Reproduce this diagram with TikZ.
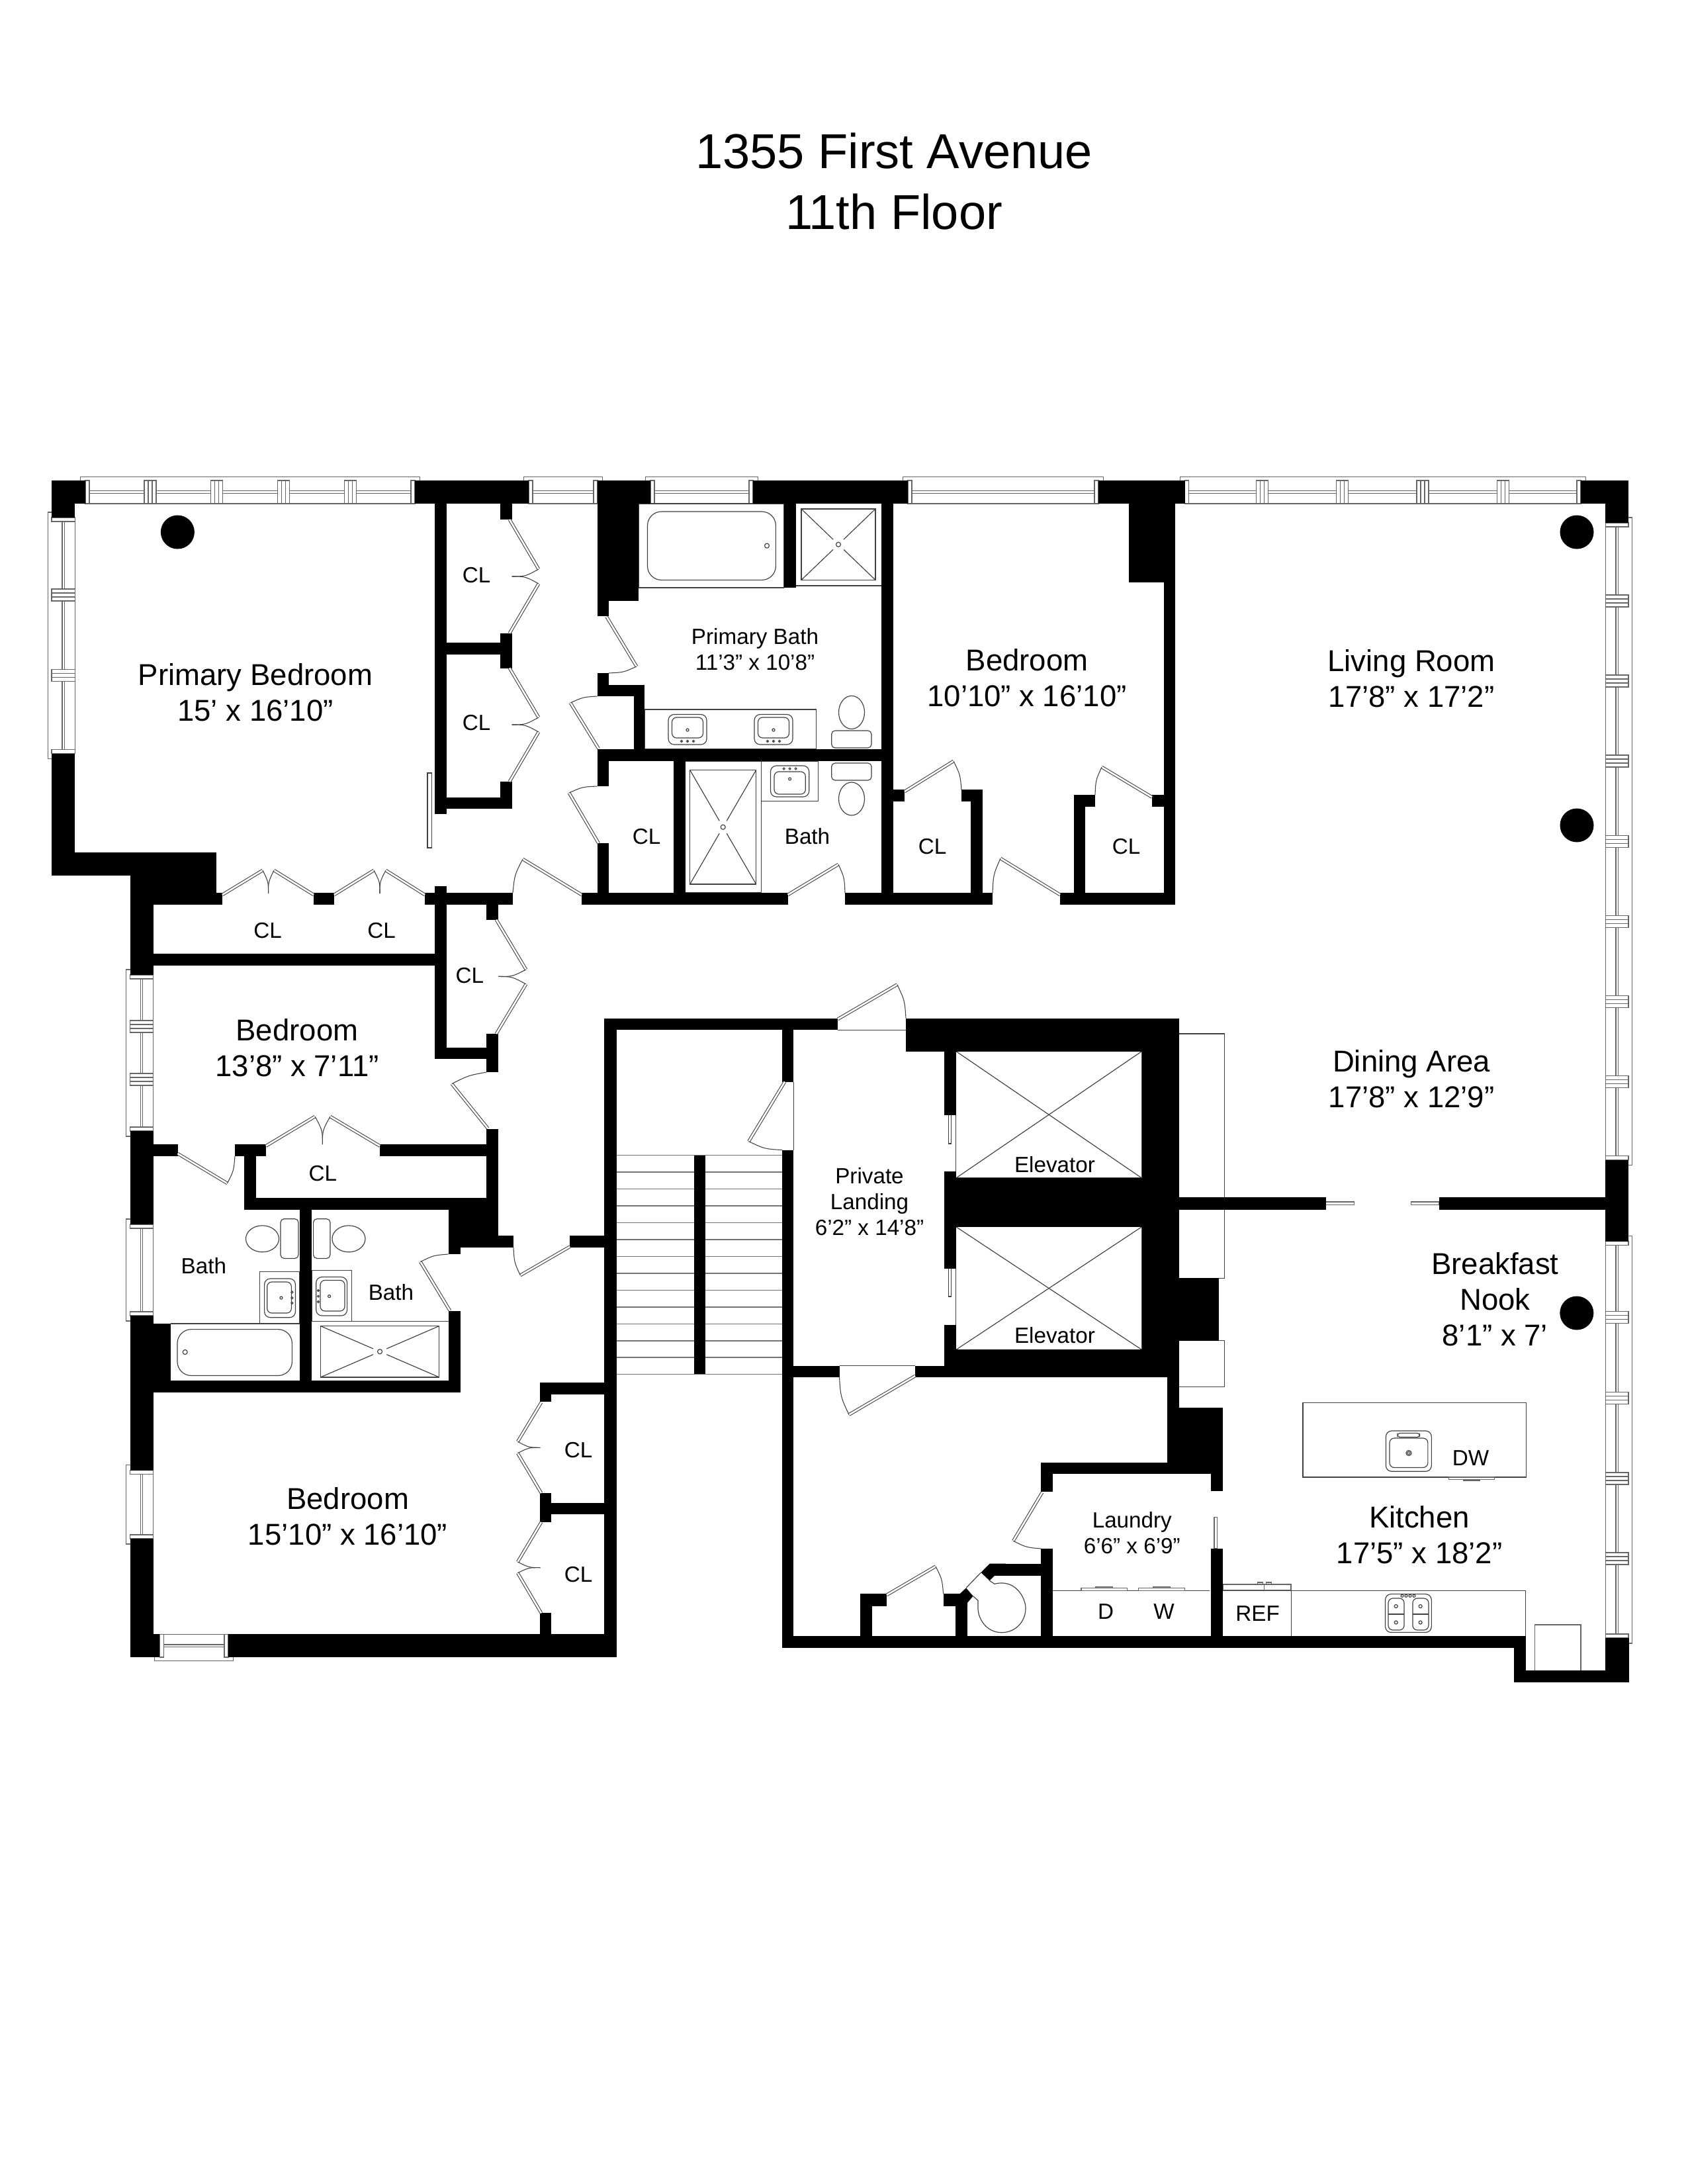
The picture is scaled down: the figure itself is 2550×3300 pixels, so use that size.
\documentclass[tikz,border=0pt]{standalone}
\usepackage{fontspec}
\setmainfont{Liberation Sans}
\usetikzlibrary{calc}

\newcommand{\winh}[4]{
   \draw[windowline] (#3-7.5,#1) -- (#3-7.5,{#1-(#2-#1)*0.16}) -- (#4+7.5,{#1-(#2-#1)*0.16}) -- (#4+7.5,#1);
   \draw[windowline] (#3,#1) rectangle (#3+6,#2);
   \draw[windowline] (#4-6,#1) rectangle (#4,#2);
   \draw[windowline] (#3+6,{(#1+#2)/2-1.7}) rectangle (#4-6,{(#1+#2)/2+1.7});
   \draw[windowline] (#3,#2) -- (#4,#2);
}
\newcommand{\winv}[4]{
   \draw[windowline] (#1,#3-8) -- ({#1+(#1-#2)*0.16},#3-8) -- ({#1+(#1-#2)*0.16},#4+8) -- (#1,#4+8);
   \draw[windowline] (#1,#3) rectangle (#2,#3+6);
   \draw[windowline] (#1,#4-6) rectangle (#2,#4);
   \draw[windowline] ({(#1+#2)/2-1.7},#3+6) rectangle ({(#1+#2)/2+1.7},#4-6);
   \draw[windowline] (#2,#3) -- (#2,#4);
}
\newcommand{\mullionh}[3]{
   \draw[windowline, fill=white] (#3-9,#1) rectangle (#3+9,#2);
   \draw[windowline] (#3-3,#1) -- (#3-3,#2);
   \draw[windowline] (#3+3,#1) -- (#3+3,#2);
}
\newcommand{\mullionv}[3]{
   \draw[windowline, fill=white] (#1,#3-9) rectangle (#2,#3+9);
   \draw[windowline] (#1,#3-3) -- (#2,#3-3);
   \draw[windowline] (#1,#3+3) -- (#2,#3+3);
}
\newcommand{\swingdoor}[3]{
   \draw[doorleaf] #1 -- #2;
   \draw[doorarc] #2 .. controls ($#1!1.05!($#2!.5!#3$)$) .. #3;
}
\newcommand{\bifold}[5]{
   \draw[doorleaf] #1 -- #2;
   \draw[doorleaf] #4 -- #5;
   \draw[doorarc] #2 .. controls ($#3!.5!($#2!.5!#4$)$) .. #3;
   \draw[doorarc] #4 .. controls ($#3!.5!($#2!.5!#4$)$) .. #3;
}
\newcommand{\showerpan}[4]{
   \draw[fixture] (#1,#2) rectangle (#3,#4);
   \draw[fixture] (#1,#2) -- (#3,#4);
   \draw[fixture] (#1,#4) -- (#3,#2);
   \fill[white] ({(#1+#3)/2},{(#2+#4)/2}) circle [radius=11];
   \draw[fixture] ({(#1+#3)/2},{(#2+#4)/2}) circle [radius=3.5];
}

\begin{document}
\begin{tikzpicture}[x=0.01cm, y=-0.01cm,
    wall/.style ={fill=black},
    windowline/.style ={draw=black!60, line width=.33pt},
    fixture/.style ={draw=black!75, line width=.33pt},
    treadline/.style ={draw=black!55, line width=.33pt},
    doorleaf/.style ={draw=black!75, double=white, line width=.3pt, double distance=.75pt},
    doorarc/.style ={draw=black!75, line width=.3pt},
    biglabel/.style ={inner sep=0pt, align=center, font=\fontsize{12.95}{15.4}\selectfont},
    smalllabel/.style ={inner sep=0pt, align=center, font=\fontsize{9.45}{11.1}\selectfont},
    titlelabel/.style ={inner sep=0pt, align=center, font=\fontsize{21.05}{25.9}\selectfont}]
   \path[use as bounding box, fill=white] (0,0) rectangle (2550,3300);

   \winh{726}{761}{129}{627}
   \winh{726}{761}{799}{903}
   \winh{726}{761}{983}{1138}
   \winh{726}{761}{1372}{1660}
   \winh{726}{761}{1790.7}{2389}
   \winh{2504}{2469.3}{241.4}{345}
   \winv{78}{113.4}{782}{1138.5}
   \winv{196.5}{231.7}{1473}{1709}
   \winv{196.5}{231.7}{1850}{1988}
   \winv{196.5}{231.7}{2221.7}{2325}
   \winv{2461}{2426.4}{790}{1752.6}
   \winv{2461}{2426.4}{1875.7}{2475}
   \foreach \m in {227,327.5,428.7,529.2,1907.7,2028.8,2150,2271.2}
      \mullionh{726}{761}{\m};
   \foreach \m in {899,1020.6}
      \mullionv{78}{113.4}{\m};
   \foreach \m in {1551,1631}
      \mullionv{196.5}{231.7}{\m};
   \foreach \m in {908,1029,1150,1271.2,1392.2,1513.2,1634.5,1990.7,2112.5,2234,2355}
      \mullionv{2426.4}{2461}{\m};

   \draw[fixture] (965,761) rectangle (1184.5,888);
   \draw[fixture, rounded corners=6pt] (978.5,773) rectangle (1172.4,876.4);
   \draw[fixture] (1159,824.6) circle [radius=3.5];
   \draw[fixture] (1202.7,885) -- (1332,885);
   \showerpan{1211}{769}{1323}{876.4}
   \draw[fixture] (974,1072) rectangle (1233.6,1132);
   \foreach \sx in {1039,1169} {
      \draw[fixture, rounded corners=2.5pt] (\sx-29,1079.5) rectangle (\sx+29,1125);
      \draw[fixture, rounded corners=2pt] (\sx-23.5,1084) rectangle (\sx+23.5,1115);
      \draw[fixture] (\sx,1103) circle [radius=2];
      \foreach \dx in {-9,0,9}
         \draw[fixture] (\sx+\dx,1120) circle [radius=1.5];
   }
   \draw[fixture] (1287,1076.4) ellipse [x radius=19.5, y radius=25];
   \draw[fixture, rounded corners=1.5pt] (1256.7,1104) rectangle (1317,1130);
   \draw[fixture, rounded corners=1.5pt] (1256.7,1153) rectangle (1317,1179);
   \draw[fixture] (1287,1207) ellipse [x radius=19.5, y radius=25];
   \draw[fixture] (1150.6,1150) rectangle (1236.7,1210.4);
   \draw[fixture, rounded corners=2.5pt] (1164.5,1157) rectangle (1222.7,1204);
   \draw[fixture, rounded corners=2pt] (1170,1166) rectangle (1217.3,1200);
   \draw[fixture] (1193.6,1177) circle [radius=2];
   \foreach \dx in {-9,0,9}
      \draw[fixture] (1193.6+\dx,1161.5) circle [radius=1.5];
   \draw[fixture] (1035.5,1150) rectangle (1150.6,1349);
   \showerpan{1042.7}{1163.5}{1142.7}{1336}

   \draw[fixture] (646,1168) rectangle (652.7,1281);

   \draw[fixture] (257.8,2000) -- (453,2000);
   \draw[fixture, rounded corners=6pt] (268,2008.6) rectangle (441.4,2078.5);
   \draw[fixture] (279.7,2043) circle [radius=3.5];
   \draw[fixture] (392.4,1921.8) rectangle (453,2000);
   \draw[fixture, rounded corners=2.5pt] (399.6,1932) rectangle (446.5,1990.7);
   \draw[fixture, rounded corners=2pt] (403.7,1937) rectangle (440.4,1984);
   \draw[fixture] (425,1961) circle [radius=2];
   \foreach \fy in {1952.4,1961,1968.8}
      \draw[fixture] (441.4,\fy) circle [radius=1.5];
   \draw[fixture] (396.5,1871.8) ellipse [x radius=25, y radius=20];
   \draw[fixture, rounded corners=1.5pt] (424,1841.7) rectangle (451,1901.4);
   \draw[fixture] (527,1871.8) ellipse [x radius=25, y radius=20];
   \draw[fixture, rounded corners=1.5pt] (473.6,1841.7) rectangle (499,1901.4);
   \draw[fixture] (471,1919.3) rectangle (531.7,1996.8);
   \draw[fixture, rounded corners=2.5pt] (477.7,1929.5) rectangle (524.6,1988);
   \draw[fixture, rounded corners=2pt] (484,1934.5) rectangle (521,1981);
   \draw[fixture] (497.6,1958.6) circle [radius=2];
   \foreach \fy in {1950,1958.6,1967}
      \draw[fixture] (481,\fy) circle [radius=1.5];
   \draw[fixture] (471,1996.8) -- (677.6,1996.8);
   \showerpan{484.3}{2003.5}{663.9}{2081}

   \foreach \ty in {1745.6,1771,1796.5,1822,1847.5,1873,1898.5,1924,1949.5,1975,2000.5,2026,2051,2076.4}
      \draw[treadline] (931.5,\ty) -- (1181.7,\ty);

   \foreach \ey/\eb in {1588.5/1780,1853.7/2039.4} {
      \draw[fixture] (1444.8,\ey) rectangle (1725.5,\eb);
      \draw[fixture] (1444.8,\ey) -- (1725.5,\eb);
      \draw[fixture] (1444.8,\eb) -- (1725.5,\ey);
   }
   \draw[fixture] (1433.3,1684.5) rectangle (1437.6,1728);
   \draw[fixture] (1433.3,1916.6) rectangle (1437.6,1959);
   \draw[fixture] (1266,1556.3) -- (1369,1556.3);
   \draw[fixture] (1268.5,2063.5) -- (1383,2063.5);
   \draw[fixture] (1199.4,1634.5) -- (1199.4,1737.6);

   \draw[fixture] (1781.6,1562) rectangle (1850.5,1931.4);
   \draw[fixture] (1781.6,2025.7) rectangle (1850.5,2095.3);
   \draw[windowline] (2003.5,1816) rectangle (2046.7,1820.5);
   \draw[windowline] (2132.6,1816) rectangle (2175,1820.5);

   \draw[fixture] (1969,2119.4) rectangle (2306.6,2232);
   \draw[fixture, rounded corners=2.5pt] (2094.4,2162) rectangle (2163.3,2223.3);
   \draw[fixture, rounded corners=2pt] (2100,2173) rectangle (2157.8,2217.4);
   \draw[fixture, rounded corners=1pt] (2112,2165.5) rectangle (2145.4,2171.4);
   \draw[fixture] (2129,2195.5) circle [radius=4];
   \draw[fixture] (2129,2195.5) circle [radius=2];
   \draw[windowline] (2189.5,2232) rectangle (2258.4,2235.6);
   \draw[windowline] (2211.5,2235.6) rectangle (2236.8,2237);
   \draw[windowline] (1848,2394) rectangle (1951,2402.7);
   \draw[windowline] (1910.8,2394) -- (1910.8,2402.7);
   \draw[windowline] (1900.7,2391) rectangle (1908.5,2394);
   \draw[windowline] (1913.5,2391) rectangle (1921.4,2394);
   \draw[fixture] (1951.7,2403.3) -- (2305.7,2403.3) -- (2305.7,2472);
   \draw[fixture] (1848,2403.3) -- (1951.7,2403.3) -- (1951.7,2472);
   \draw[fixture, rounded corners=2.5pt] (2093.5,2408.6) rectangle (2163.3,2466.5);
   \foreach \bx in {2098,2134.9} {
      \draw[fixture, rounded corners=2pt] (\bx,2415) rectangle (\bx+24,2463);
      \draw[fixture] (\bx,2439) -- (\bx+24,2439);
      \draw[fixture] (\bx+11.7,2427) circle [radius=2.5];
      \draw[fixture] (\bx+11.7,2451.5) circle [radius=2.5];
   }
   \foreach \kx in {2119,2125,2131,2137}
      \draw[fixture] (\kx,2411.3) circle [radius=2];
   \draw[windowline] (2319.3,2524) -- (2319.3,2455) -- (2389,2455) -- (2389,2524);

   \draw[fixture] (1591,2403.3) -- (1828,2403.3);
   \foreach \wx in {1634,1720.8} {
      \draw[windowline] (\wx,2399.3) rectangle (\wx+69.5,2403.3);
      \draw[windowline, fill=black!45] (\wx+22,2397.3) rectangle (\wx+47.5,2399.3);
   }
   \draw[windowline] (1835,2292.7) rectangle (1839.5,2340);
   \draw[fixture] (1482.5,2376) -- (1460,2399.3);
   \draw[fixture] (1495.5,2388.3) -- (1503,2393.3) .. controls (1535,2385) and (1550,2415) .. (1550,2430)
      .. controls (1550,2450) and (1535,2466.7) .. (1513.6,2466.7)
      .. controls (1490,2466.7) and (1478,2445) .. (1478,2430) -- (1478,2418.3) -- (1470.6,2411.7);

   \foreach \xa/\ya/\xb/\yb in {78/726/129/761, 78/726/113.4/782, 627/726/799/761, 902.7/726/983/761,
      1138/726/1372/761, 1660/726/1790.7/761, 2389/726/2461/761, 2426.4/726/2461/790,
      78/1138.5/113.4/1323, 78/1288/327/1323, 196.5/1288/327/1349, 196.5/1349/336/1366.6,
      196.5/1366/231.7/1473, 196.5/1709/231.7/1850, 196.5/1988/231.7/2221.7, 196.5/2325/231.7/2504,
      196.5/2469.3/241.4/2504, 345/2469.3/931.7/2504, 913.4/1538.5/931.5/2504, 913.4/1538.5/1266/1556.3,
      474/1349/505/1366.6, 642/1349/775/1366.6, 657/761/675/1230.4, 657/1338.5/675/1600.4,
      755.7/761/773.6/785, 675/971/756/989, 755.7/956.8/773.6/1009.5, 755.7/1181/773.6/1222.4,
      675/1204.6/773.6/1222.4, 902.7/726/965/907.7, 902.7/726/920/931.3, 902.7/1017/920/1052,
      902.7/1035/974/1052, 958/1035/974/1132, 902.7/1132/1332/1150, 902.7/1132/920/1188,
      902.7/1274/920/1366.6, 879/1349/1190.6/1366.6, 1018/1150/1035.5/1349, 1184.5/761/1202.7/888,
      1332/761/1350/1366.6, 1350/1193.4/1367/1211, 1453/1193.4/1485/1211, 1467/1193.4/1485/1366.6,
      1277/1349/1500/1366.6, 1602/1349/1776/1366.6, 1623/1201.4/1655/1219, 1623/1201.4/1640/1349,
      1741/1201.4/1759/1219, 1759/761/1776/1366.6, 1706/761/1776/879.5, 231.7/1441/657/1458.6,
      657/1582.6/752.6/1600.4, 735.3/1562/752.6/1620, 735.3/1366.6/752.6/1389.7, 735.3/1706/752.6/1885,
      574/1729/735.3/1747.3, 355.2/1729/402.1/1747.3, 369/1729/386.8/1827.5, 369/1809.6/752/1827.5,
      231.7/1729/268.5/1747.3, 677.6/1827.5/752.6/1867, 677.6/1867/776/1885, 677.6/1885/695.5/1895,
      861.3/1867/913.4/1885, 453/1827.5/471/2086, 231.7/2000/257.8/2086, 231.7/2086/695.5/2104.4,
      677.6/1980.5/695.5/2104.4, 816/2089.3/913.4/2106.7, 816/2106.7/833.3/2118.3, 816/2256/833.3/2300,
      833.3/2270.7/913.4/2288.3, 816/2437.3/833.3/2469.3, 1048.5/1745.6/1065.5/2076.4, 1181.7/1538.5/1199.4/1634.5,
      1181.7/1737.6/1199.4/2490.3, 1369/1538.5/1782/1588.5, 1426.7/1538.5/1444.8/1684.5,
      1725.5/1538.5/1781.8/2080.5, 1444.8/1780/1725.5/1853.7, 1426.7/1770/1444.8/1916.6,
      1426.7/2002.3/1444.8/2080.5, 1426.7/2039.4/1781.8/2080.5, 1383/2063.5/1781.8/2080.5,
      1199.4/2063.5/1268.5/2080.5, 1763.9/2080/1781.6/2210, 1764/2126.7/1847.6/2210,
      1573.4/2210/1847.6/2227.3, 1830.4/2227.3/1847.6/2253.3, 1573.4/2227.3/1591/2254,
      1573.4/2340/1591/2472.3, 1830.4/2340/1847.6/2472.3, 1495.5/2362.7/1573.4/2380.7,
      1425.6/2408.3/1450.5/2426.7, 1444/2408.3/1462/2472.3, 1300/2408.3/1340/2426.7,
      1300/2408.3/1317.5/2472.3, 1181.7/2472.3/2305.7/2490.3, 2287.7/2472.3/2305.7/2541.7,
      2287.7/2524/2461.7/2541.7, 2426.4/2475/2461.7/2541.7, 1781/1931.4/1842/2025.7, 1781/1809/2003.5/1827.5,
      2175/1809/2426.4/1827.5, 2426.4/1752.6/2461/1875.7}
      \fill[wall] (\xa,\ya) rectangle (\xb,\yb);
   \fill[wall] (1495.5,2362.7) -- (1482.5,2376) -- (1495.5,2388.3) -- (1503,2380.7) -- (1520,2380.7) -- (1520,2362.7) -- cycle;
   \fill[wall] (1460,2399.3) -- (1450.5,2408.3) -- (1444,2426) -- (1462,2426) -- (1462,2421.7) -- (1470.6,2411.7) -- cycle;

   \foreach \cx/\cy in {268.4/804,2383/804,2383/1247,2382.8/1984}
      \fill[wall] (\cx,\cy) circle [radius=25.5];

   \swingdoor{(879,1352)}{(790,1298)}{(775,1349)}
   \swingdoor{(916.7,932)}{(962,1007)}{(920,1017)}
   \swingdoor{(904.5,1131)}{(862,1062)}{(902.7,1052)}
   \swingdoor{(904.5,1274)}{(860,1198)}{(902.7,1188)}
   \swingdoor{(1190.6,1352)}{(1267,1306)}{(1277,1349)}
   \swingdoor{(1367,1196)}{(1441,1150)}{(1453,1193)}
   \swingdoor{(1741,1204.5)}{(1665,1159)}{(1655,1201)}
   \swingdoor{(1602,1352)}{(1512,1297)}{(1500,1349)}
   \swingdoor{(737.3,1705)}{(682.8,1637.7)}{(735.3,1620)}
   \swingdoor{(268.5,1743)}{(343.5,1788)}{(355,1747)}
   \swingdoor{(861.3,1883.6)}{(786.3,1927)}{(776,1885)}
   \swingdoor{(680,1980.5)}{(635.3,1906.5)}{(677.6,1895)}
   \swingdoor{(1186,1634.5)}{(1131.5,1724.6)}{(1181.8,1737.6)}
   \swingdoor{(1266,1540)}{(1355.8,1487.6)}{(1369,1538.5)}
   \swingdoor{(1383,2079)}{(1283,2137.6)}{(1268.5,2080.5)}
   \swingdoor{(1575,2255)}{(1531.3,2328.3)}{(1573.4,2340)}
   \swingdoor{(1340,2410)}{(1414,2366.7)}{(1425.6,2408.3)}

   \bifold{(770,785)}{(814,860)}{(773.6,871)}{(814,882)}{(770,956.8)}
   \bifold{(770,1009.5)}{(814,1084)}{(773.6,1095)}{(814,1106)}{(770,1181)}
   \bifold{(336,1352)}{(397,1315)}{(405.6,1350)}{(414,1315)}{(474,1352)}
   \bifold{(505,1352)}{(565,1315)}{(574,1350)}{(583,1315)}{(642,1352)}
   \bifold{(750,1389.7)}{(795,1465)}{(753,1475.4)}{(795,1487)}{(750,1562)}
   \bifold{(402,1731.5)}{(476,1687)}{(487.3,1729)}{(499,1687)}{(574,1731.5)}
   \bifold{(818,2119)}{(782.3,2178.3)}{(816.4,2187.3)}{(782.3,2195.7)}{(818,2256)}
   \bifold{(818,2300)}{(782.3,2360)}{(816.4,2368.7)}{(782.3,2376.7)}{(818,2437.3)}

   \node[titlelabel] (title) at (1351,274) {1355 First Avenue\\11th Floor};
   \node[biglabel] (primarybedroom) at (386,1046) {Primary Bedroom\\15’ x 16’10”};
   \node[biglabel] (bedroomnorth) at (1552,1024.5) {Bedroom\\10’10” x 16’10”};
   \node[biglabel] (livingroom) at (2133,1025.5) {Living Room\\17’8” x 17’2”};
   \node[biglabel] (diningarea) at (2133,1630.5) {Dining Area\\17’8” x 12’9”};
   \node[biglabel] (bedroommid) at (449,1583) {Bedroom\\13’8” x 7’11”};
   \node[biglabel] (bedroomsouth) at (525.6,2291.5) {Bedroom\\15’10” x 16’10”};
   \node[biglabel] (breakfastnook) at (2259.3,1963.5) {Breakfast\\Nook\\8’1” x 7’};
   \node[biglabel] (kitchen) at (2145,2319) {Kitchen\\17’5” x 18’2”};
   \node[smalllabel] (primarybath) at (1141,981) {Primary Bath\\11’3” x 10’8”};
   \node[smalllabel] (privatelanding) at (1314,1816) {Private\\Landing\\6’2” x 14’8”};
   \node[smalllabel] (laundry) at (1710.8,2316.5) {Laundry\\6’6” x 6’9”};
   \node[smalllabel] (bathprimary) at (1220,1264) {Bath};
   \node[smalllabel] (bathleft) at (307.8,1913) {Bath};
   \node[smalllabel] (bathright) at (591,1952.4) {Bath};
   \node[smalllabel] (elevatorone) at (1594,1760) {Elevator};
   \node[smalllabel] (elevatortwo) at (1594,2018) {Elevator};
   \node[smalllabel] (dryer) at (1671,2435) {D};
   \node[smalllabel] (washer) at (1759,2435) {W};
   \node[smalllabel] (fridge) at (1900.7,2438) {REF};
   \node[smalllabel] (dishwasher) at (2222.5,2203.5) {DW};
   \node[smalllabel] (clone) at (720,869) {CL};
   \node[smalllabel] (cltwo) at (720,1092.5) {CL};
   \node[smalllabel] (clthree) at (977,1264) {CL};
   \node[smalllabel] (clfour) at (1409,1279) {CL};
   \node[smalllabel] (clfive) at (1702,1279) {CL};
   \node[smalllabel] (clsix) at (404.7,1406.5) {CL};
   \node[smalllabel] (clseven) at (576.6,1406.5) {CL};
   \node[smalllabel] (cleight) at (709.8,1474.4) {CL};
   \node[smalllabel] (clnine) at (487.9,1772.9) {CL};
   \node[smalllabel] (clten) at (874,2191) {CL};
   \node[smalllabel] (cleleven) at (874,2379) {CL};
\end{tikzpicture}
\end{document}
